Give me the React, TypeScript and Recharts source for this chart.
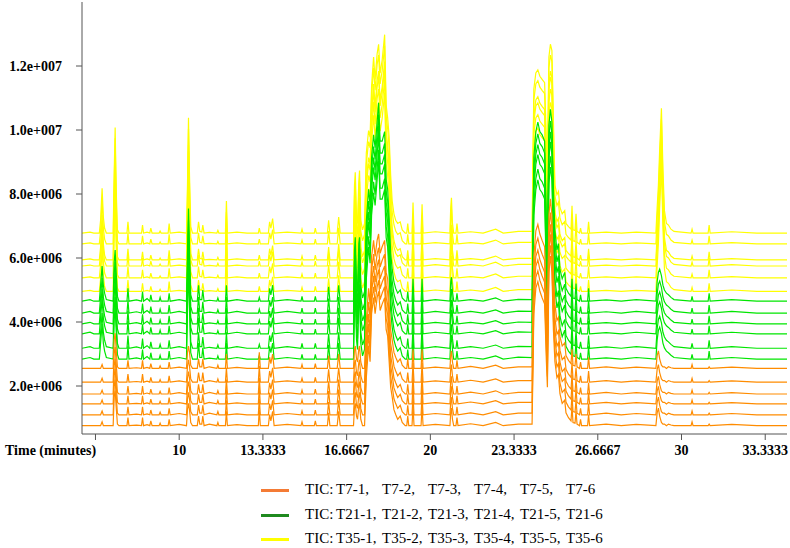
import { Line, LineChart, XAxis, YAxis } from "recharts";

// retention-time profile: [minutes, T7 height, T21 height, T35 height] in 1e6 counts above each trace's baseline
const signal: [number, number, number, number][] = [
  [6.13, 0, 0, 0], [6.45, 0, 0.05, 0.03], [6.6, 0, 0, 0],
  [6.82, 0, 0, 0], [6.87, 0, 0.5, 0.4], [6.93, 0.12, 1.1, 1.4], [6.98, 0, 0.5, 0.5], [7.03, 0, 0.25, 0.15], [7.1, 0, 0.05, 0],
  [7.37, 0, 0, 0], [7.41, 0.9, 1.2, 1.8], [7.45, 1.1, 1.6, 3.3], [7.49, 0.6, 0.9, 1.4], [7.54, 0.05, 0.15, 0.1], [7.6, 0, 0, 0],
  [7.92, 0, 0, 0], [7.96, 0.25, 0.4, 0.35], [8.0, 0, 0, 0],
  [8.3, 0.02, 0.04, 0], [8.5, 0, 0, 0], [8.54, 0.25, 0.3, 0.25], [8.58, 0, 0, 0],
  [8.72, 0.03, 0.08, 0.03], [8.83, 0, 0, 0], [8.87, 0.15, 0.2, 0.15], [8.92, 0, 0, 0],
  [9.2, 0, 0, 0], [9.24, 0.08, 0.12, 0.06], [9.28, 0, 0, 0],
  [9.56, 0, 0, 0], [9.6, 0.2, 0.25, 0.3], [9.64, 0, 0, 0], [10.0, 0.04, 0.05, 0.03],
  [10.29, 0, 0, 0], [10.33, 0.5, 1.5, 1.5], [10.37, 0.7, 2.9, 3.6], [10.41, 0.5, 1.6, 1.8], [10.46, 0.1, 0.2, 0.2], [10.53, 0, 0, 0],
  [10.72, 0, 0, 0], [10.77, 0.3, 0.5, 0.35], [10.82, 0.05, 0.05, 0.05], [10.9, 0.05, 0.05, 0.03], [10.94, 0.3, 0.35, 0.25], [10.99, 0, 0, 0],
  [11.2, 0.05, 0.03, 0.02], [11.5, 0, 0, 0], [11.54, 0.1, 0.1, 0.08], [11.58, 0, 0, 0],
  [11.84, 0, 0, 0], [11.88, 0.45, 0.5, 1.0], [11.92, 0, 0, 0],
  [12.3, 0.03, 0.05, 0.03], [12.7, 0, 0, 0],
  [13.15, 0, 0, 0], [13.19, 0.5, 0.12, 0.15], [13.23, 0, 0, 0],
  [13.55, 0, 0, 0], [13.6, 0.35, 0.4, 0.35], [13.65, 0.15, 0.2, 0.15], [13.72, 0.45, 0.5, 0.45], [13.78, 0, 0, 0],
  [14.3, 0.04, 0.05, 0.03], [14.85, 0, 0, 0], [14.89, 0.12, 0.15, 0.12], [14.93, 0, 0, 0],
  [15.38, 0, 0, 0], [15.42, 0.15, 0.15, 0.15], [15.46, 0, 0, 0],
  [15.9, 0, 0, 0], [15.95, 0.4, 0.45, 0.4], [16.0, 0, 0, 0],
  [16.29, 0, 0, 0], [16.35, 0.45, 0.5, 0.5], [16.41, 0, 0, 0],
  // first big cluster
  [16.94, 0, 0, 0], [16.98, 0.6, 1.6, 1.5], [17.01, 0.7, 2.0, 1.9], [17.06, 0.3, 0.6, 0.5], [17.1, 0.2, 0.3, 0.3],
  [17.15, 0.6, 1.8, 1.6], [17.18, 0.7, 2.0, 1.95], [17.23, 0.2, 0.5, 0.4], [17.3, 0, 0.1, 0.1], [17.38, 0, 0.3, 0.3],
  [17.45, 1.5, 2.5, 2.5], [17.54, 2.5, 3.5, 3.2], [17.6, 2.0, 3.0, 3.0], [17.66, 3.5, 4.5, 4.6], [17.74, 4.0, 5.2, 5.5],
  [17.8, 3.5, 4.8, 4.8], [17.88, 4.0, 5.6, 5.6], [17.94, 4.2, 6.2, 5.9], [18.0, 3.6, 5.0, 5.0], [18.08, 3.8, 5.0, 5.4],
  [18.18, 4.0, 5.3, 6.2], [18.24, 3.0, 3.8, 4.0], [18.3, 2.8, 3.5, 3.6], [18.36, 2.0, 2.6, 3.0], [18.42, 1.2, 1.5, 1.8],
  [18.48, 0.9, 1.0, 1.0], [18.55, 0.5, 0.6, 0.6], [18.62, 0.35, 0.4, 0.4], [18.7, 0.2, 0.25, 0.3], [18.8, 0.3, 0.35, 0.35],
  [18.88, 0.1, 0.1, 0.1], [19.0, 0, 0, 0],
  [19.06, 0, 0, 0], [19.1, 0.3, 0.3, 0.3], [19.14, 0, 0, 0],
  [19.27, 0, 0, 0], [19.31, 0.6, 0.7, 0.95], [19.35, 0, 0, 0],
  [19.63, 0, 0, 0], [19.67, 0.6, 0.7, 0.9], [19.71, 0, 0, 0], [20.2, 0.04, 0.05, 0.04],
  [20.78, 0, 0, 0], [20.81, 0.4, 0.6, 0.8], [20.84, 0.55, 0.75, 1.1], [20.88, 0.2, 0.3, 0.3], [20.93, 0, 0, 0],
  [21.02, 0, 0, 0], [21.06, 0.25, 0.25, 0.3], [21.1, 0, 0, 0],
  [21.6, 0.06, 0.05, 0.04], [22.1, 0, 0, 0], [22.6, 0.1, 0.1, 0.12], [22.9, 0, 0, 0], [23.5, 0.05, 0.06, 0.05],
  // second big cluster
  [24.05, 0.05, 0.05, 0.05], [24.12, 3.5, 4.5, 4.5], [24.2, 4.3, 5.3, 5.0], [24.28, 4.5, 5.6, 5.1], [24.36, 4.2, 5.3, 4.9],
  [24.45, 4.0, 5.2, 4.8], [24.55, 3.8, 5.0, 4.7], [24.62, 2.0, 2.5, 2.8], [24.66, 1.2, 1.5, 2.0], [24.72, 4.8, 5.5, 5.5],
  [24.78, 5.3, 6.0, 5.9], [24.84, 4.8, 5.6, 5.7], [24.9, 3.0, 3.5, 3.5], [24.96, 2.0, 2.2, 1.5], [25.04, 1.5, 1.6, 1.2],
  [25.1, 1.6, 1.8, 1.3], [25.16, 1.0, 1.0, 0.8], [25.25, 0.7, 0.7, 0.6], [25.35, 0.8, 0.9, 0.7], [25.4, 0.4, 0.4, 0.3],
  [25.5, 0.25, 0.25, 0.2], [25.6, 0.15, 0.15, 0.12], [25.64, 0.6, 0.7, 0.85], [25.68, 0.1, 0.1, 0.1], [25.76, 0.08, 0.08, 0.08],
  [25.8, 0.45, 0.55, 0.6], [25.84, 0.05, 0.05, 0.05], [25.94, 0, 0, 0], [25.98, 0.2, 0.2, 0.15], [26.02, 0, 0, 0],
  [26.26, 0, 0, 0], [26.3, 0.35, 0.4, 0.35], [26.34, 0, 0, 0],
  [27.0, 0.05, 0.04, 0.03], [27.6, 0, 0, 0], [28.2, 0.04, 0.05, 0.03],
  [28.98, 0, 0, 0], [29.03, 0.4, 0.6, 0.8], [29.08, 0.55, 0.9, 1.5], [29.13, 0.3, 1.0, 2.6], [29.2, 0.1, 0.8, 3.9],
  [29.26, 0.05, 0.5, 2.0], [29.32, 0.05, 0.35, 0.7], [29.4, 0, 0.25, 0.3], [29.48, 0.05, 0.2, 0.25], [29.58, 0.02, 0.12, 0.12],
  [29.7, 0, 0.05, 0.05],
  [30.38, 0, 0, 0], [30.42, 0.12, 0.15, 0.12], [30.46, 0, 0, 0],
  [31.06, 0, 0, 0], [31.1, 0.05, 0.25, 0.25], [31.14, 0, 0, 0],
  [32.0, 0.04, 0.05, 0.04], [33.0, 0, 0, 0], [34.2, 0, 0, 0],
];

// per-sample offsets (1e6), top trace first
const t7Base = [2.55, 2.12, 1.75, 1.44, 1.1, 0.76];
const t21Base = [4.65, 4.28, 3.94, 3.63, 3.18, 2.84];
const t35Base = [6.78, 6.44, 5.94, 5.75, 5.38, 4.96];

const xTicks = [6.6667, 10, 13.3333, 16.6667, 20, 23.3333, 26.6667, 30, 33.3333];
const xLabels = ["", "10", "13.3333", "16.6667", "20", "23.3333", "26.6667", "30", "33.3333"];
const yTicks = [2e6, 4e6, 6e6, 8e6, 10e6, 12e6];
const yLabels = ["2.0e+006", "4.0e+006", "6.0e+006", "8.0e+006", "1.0e+007", "1.2e+007"];

const legendRows = [
  { color: "#f47b35", items: ["T7-1,", "T7-2,", "T7-3,", "T7-4,", "T7-5,", "T7-6"] },
  { color: "#1f8a1f", items: ["T21-1,", "T21-2,", "T21-3,", "T21-4,", "T21-5,", "T21-6"] },
  { color: "#ffff00", items: ["T35-1,", "T35-2,", "T35-3,", "T35-4,", "T35-5,", "T35-6"] },
];

const ORANGE = "#ff8c00";
const GREEN = "#00e600";
const YELLOW = "#ffff00";
const FONT = "Liberation Serif";

const rows = signal.map(([t, o, g, y]) => {
  const row: Record<string, number> = { t };
  t7Base.forEach((b, i) => (row["o" + i] = (b + o) * 1e6));
  t21Base.forEach((b, i) => (row["g" + i] = (b + g) * 1e6));
  t35Base.forEach((b, i) => (row["y" + i] = (b + y) * 1e6));
  return row;
});

const trace = (key: string, color: string) => (
  <Line
    key={key}
    type="linear"
    dataKey={key}
    stroke={color}
    strokeWidth={1.2}
    dot={false}
    activeDot={false}
    isAnimationActive={false}
  />
);

const XTick = ({ x, y, payload }: any) => (
  <text x={x} y={y} dy={10} textAnchor="middle" fontFamily={FONT} fontSize={14} fontWeight="bold" fill="#000">
    {xLabels[xTicks.indexOf(payload.value)] ?? ""}
  </text>
);

const YTick = ({ x, y, payload }: any) => (
  <text x={x} y={y} dx={-6} dy={5} textAnchor="end" fontFamily={FONT} fontSize={14} fontWeight="bold" fill="#000">
    {yLabels[yTicks.indexOf(payload.value)] ?? ""}
  </text>
);

export default function App() {
  return (
    <div style={{ position: "absolute", left: 0, top: 0, width: 790, height: 548, background: "#fff" }}>
      <LineChart width={790} height={548} data={rows} margin={{ top: 2, right: 3, bottom: 84, left: 0 }}>
        <XAxis
          dataKey="t"
          type="number"
          domain={[6.13, 34.2]}
          ticks={xTicks}
          interval={0}
          allowDataOverflow
          height={30}
          tickSize={6}
          tickMargin={5}
          stroke="#555"
          tick={<XTick />}
        />
        <YAxis
          type="number"
          domain={[0.5e6, 14e6]}
          ticks={yTicks}
          interval={0}
          allowDataOverflow
          width={82}
          tickSize={6}
          tickMargin={8}
          stroke="#555"
          tick={<YTick />}
        />
        {t35Base.map((_, i) => trace("y" + i, YELLOW))}
        {t21Base.map((_, i) => trace("g" + i, GREEN))}
        {t7Base.map((_, i) => trace("o" + i, ORANGE))}
      </LineChart>

      <div
        style={{
          position: "absolute",
          left: 5,
          top: 443,
          fontFamily: FONT,
          fontSize: 14,
          fontWeight: "bold",
          whiteSpace: "nowrap",
        }}
      >
        Time (minutes)
      </div>

      {legendRows.map((r, ri) => (
        <div key={ri} style={{ position: "absolute", left: 0, top: 480 + ri * 24.5, height: 20, fontFamily: FONT, fontSize: 15 }}>
          <div style={{ position: "absolute", left: 261, top: 9, width: 28, height: 3, background: r.color }} />
          <div style={{ position: "absolute", left: 305, top: 1, whiteSpace: "nowrap" }}>TIC:</div>
          {r.items.map((it, k) => (
            <div key={k} style={{ position: "absolute", left: 336 + k * 46, top: 1, whiteSpace: "nowrap" }}>
              {it}
            </div>
          ))}
        </div>
      ))}
    </div>
  );
}
